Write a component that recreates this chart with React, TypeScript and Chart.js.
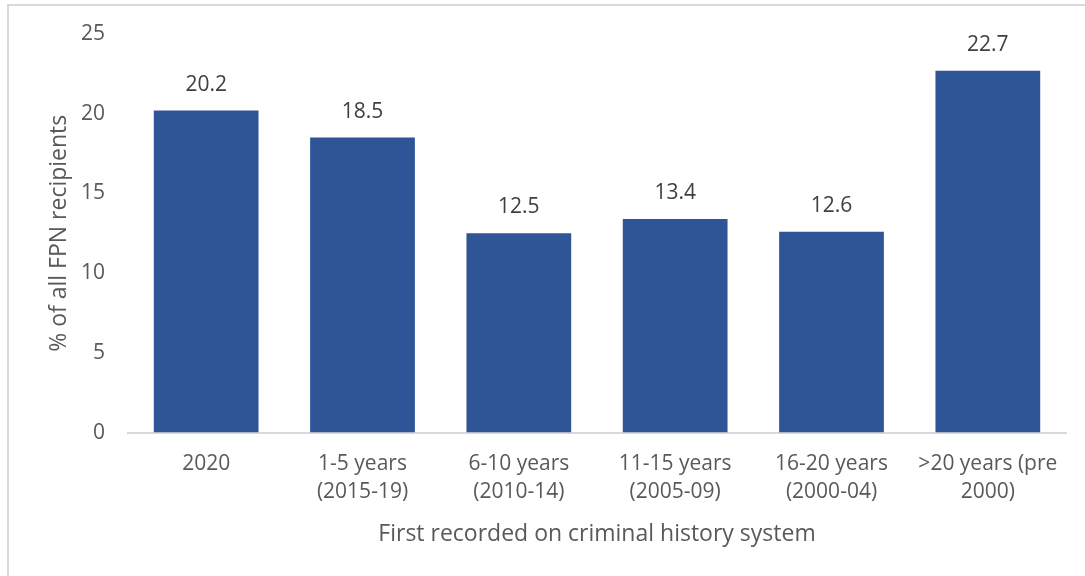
import React, { useEffect, useRef } from "react";
import { Chart, registerables } from "chart.js";

Chart.register(...registerables);

const categories: string[][] = [
  ["2020"],
  ["1-5 years", "(2015-19)"],
  ["6-10 years", "(2010-14)"],
  ["11-15 years", "(2005-09)"],
  ["16-20 years", "(2000-04)"],
  [">20 years (pre", "2000)"],
];
const values: number[] = [20.2, 18.5, 12.5, 13.4, 12.6, 22.7];
const yTicks: number[] = [0, 5, 10, 15, 20, 25];
const yTitle = "% of all FPN recipients";
const xTitle = "First recorded on criminal history system";

const FONT = "'Open Sans', sans-serif";

const dataLabelPlugin = {
  id: "dataLabels",
  afterDatasetsDraw(chart: any) {
    const ctx = chart.ctx;
    const meta = chart.getDatasetMeta(0);
    ctx.save();
    ctx.fillStyle = "#404040";
    ctx.font = `21px ${FONT}`;
    ctx.textAlign = "center";
    ctx.textBaseline = "middle";
    meta.data.forEach((bar: any, i: number) => {
      ctx.fillText(values[i].toFixed(1), bar.x, bar.y - 26);
    });
    ctx.restore();
  },
};

export default function App() {
  const ref = useRef<HTMLCanvasElement | null>(null);
  useEffect(() => {
    document.body.style.margin = "0";
    const chart = new Chart(ref.current as HTMLCanvasElement, {
      type: "bar",
      data: {
        labels: categories,
        datasets: [
          {
            data: values,
            backgroundColor: "#2f5597",
            borderWidth: 0,
            categoryPercentage: 0.67,
            barPercentage: 1,
          },
        ],
      },
      options: {
        animation: false,
        responsive: false,
        maintainAspectRatio: false,
        layout: { padding: { left: 46, right: 19, top: 34, bottom: 28 } },
        plugins: { legend: { display: false }, tooltip: { enabled: false } },
        scales: {
          x: {
            grid: { display: false },
            border: { display: true, color: "#d9d9d9", width: 2 },
            ticks: {
              color: "#595959",
              font: { family: FONT, size: 21, lineHeight: 1.33 },
              padding: 10,
              maxRotation: 0,
              autoSkip: false,
            },
            title: {
              display: true,
              text: xTitle,
              color: "#595959",
              font: { family: FONT, size: 23 },
              padding: { top: 4, bottom: 0 },
            },
          },
          y: {
            min: 0,
            max: 25,
            afterBuildTicks: (axis: any) => {
              axis.ticks = yTicks.map((v) => ({ value: v }));
            },
            afterFit: (axis: any) => {
              axis.width = 82;
            },
            grid: { display: false },
            border: { display: false },
            ticks: {
              color: "#595959",
              font: { family: FONT, size: 21 },
              padding: 15,
            },
            title: {
              display: true,
              text: yTitle,
              color: "#595959",
              font: { family: FONT, size: 23 },
              padding: { top: 0, bottom: 0 },
            },
          },
        },
      },
      plugins: [dataLabelPlugin],
    });
    return () => chart.destroy();
  }, []);
  return (
    <div style={{ position: "relative", width: 1085, height: 576, overflow: "hidden", background: "#fff" }}>
      <div
        style={{
          position: "absolute",
          left: 7,
          top: 4,
          width: 1100,
          height: 600,
          border: "2px solid #d9d9d9",
          boxSizing: "border-box",
        }}
      />
      <canvas ref={ref} width={1085} height={576} style={{ position: "absolute", left: 0, top: 0 }} />
    </div>
  );
}
